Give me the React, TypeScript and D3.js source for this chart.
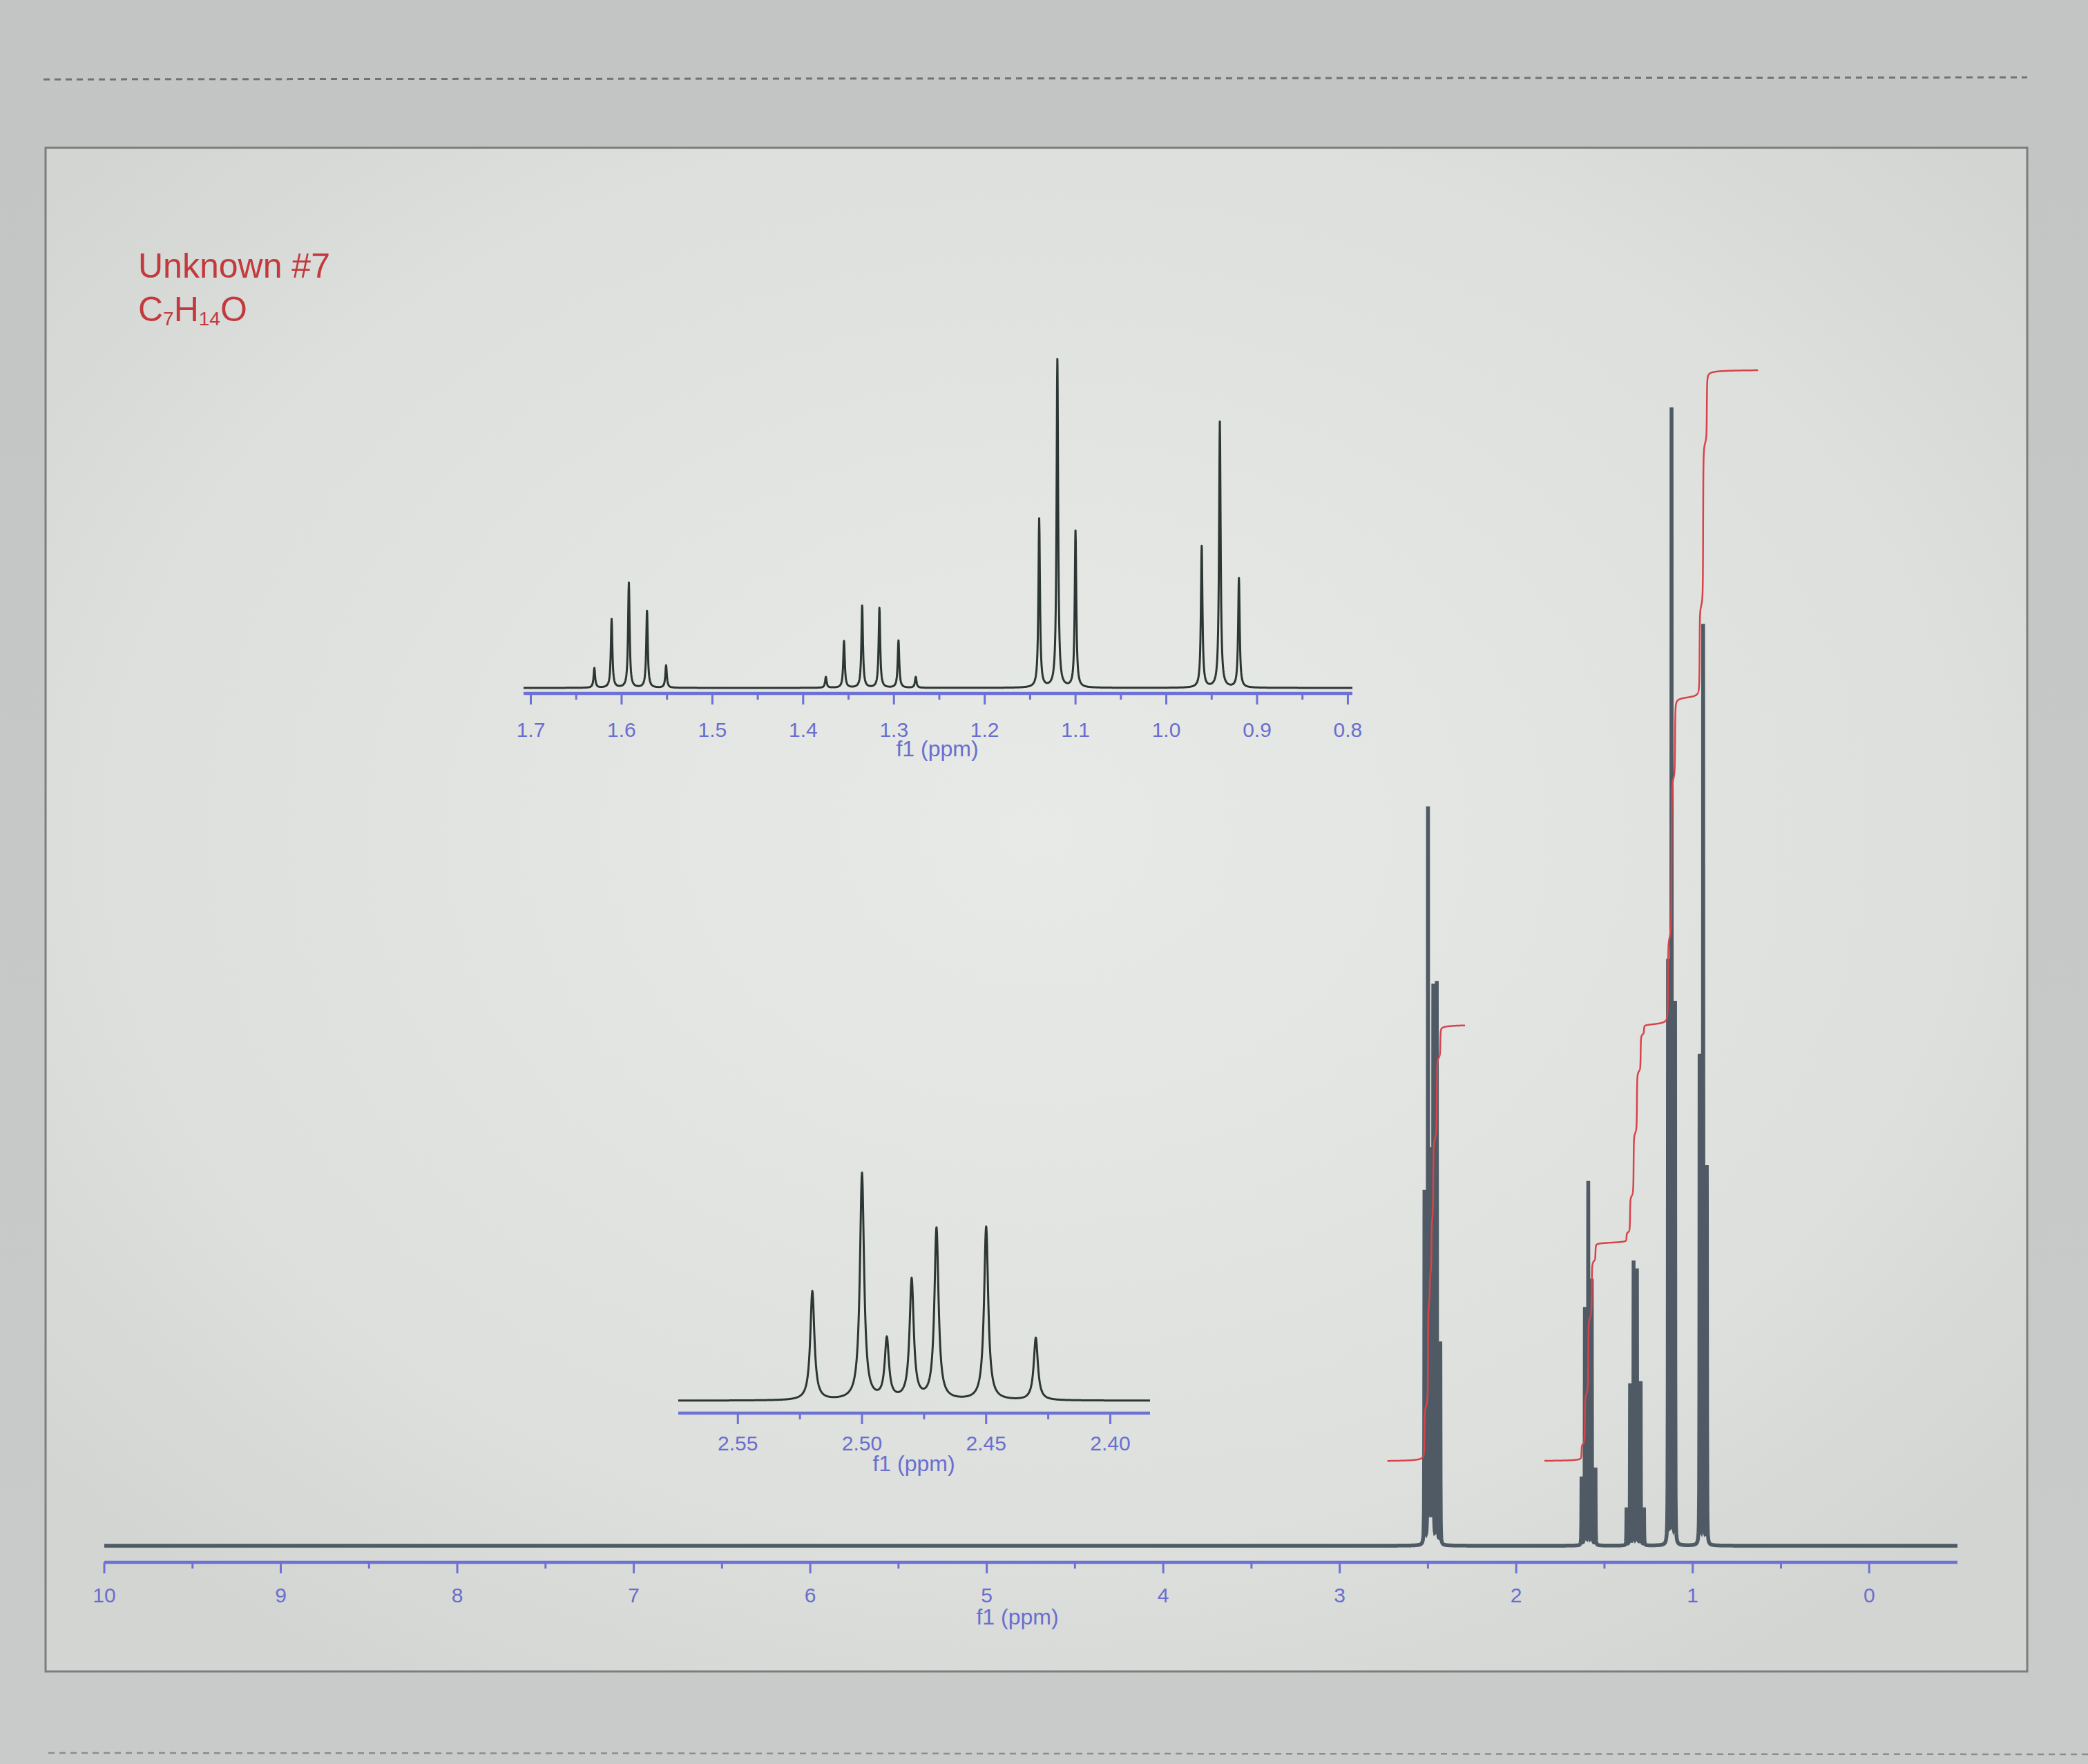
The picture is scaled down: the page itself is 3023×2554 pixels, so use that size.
import React from 'react';
import * as d3 from 'd3';

// ---------------- data ----------------
// line positions (ppm) and relative intensities of each multiplet
const m1Ppm = [2.52, 2.5, 2.49, 2.48, 2.47, 2.45, 2.43];
const m1Int = [31.1, 64.7, 17.2, 34.2, 48.9, 49.5, 17.8];
const m2Ppm = [1.63, 1.611, 1.592, 1.572, 1.551];
const m2Int = [6.0, 20.9, 32.0, 23.4, 6.8];
const m3Ppm = [1.375, 1.355, 1.335, 1.316, 1.295, 1.276];
const m3Int = [3.3, 14.2, 25.0, 24.3, 14.4, 3.3];
const m4Ppm = [1.14, 1.12, 1.1];
const m4Int = [51.4, 100, 47.7];
const m5Ppm = [0.961, 0.941, 0.92];
const m5Int = [43.1, 81.0, 33.3];
// integral values (H) of each multiplet, and integration regions (ppm)
const integralH = [4, 2, 2, 3, 3];
const integralRegions: [number, number][] = [
  [2.73, 2.29],
  [1.84, 0.63],
];

const mainTicks = [10, 9, 8, 7, 6, 5, 4, 3, 2, 1, 0];
const mainMinor = [9.5, 8.5, 7.5, 6.5, 5.5, 4.5, 3.5, 2.5, 1.5, 0.5];
const inset1Ticks = [1.7, 1.6, 1.5, 1.4, 1.3, 1.2, 1.1, 1.0, 0.9, 0.8];
const inset1Minor = [1.65, 1.55, 1.45, 1.35, 1.25, 1.15, 1.05, 0.95, 0.85];
const inset2Ticks = [2.55, 2.5, 2.45, 2.4];
const inset2Minor = [2.525, 2.475, 2.425];

const titleText = 'Unknown #7';
const axisTitle = 'f1 (ppm)';

// ---------------- model ----------------
const multiplets = [
  { ppm: m1Ppm, int: m1Int, h: integralH[0] },
  { ppm: m2Ppm, int: m2Int, h: integralH[1] },
  { ppm: m3Ppm, int: m3Int, h: integralH[2] },
  { ppm: m4Ppm, int: m4Int, h: integralH[3] },
  { ppm: m5Ppm, int: m5Int, h: integralH[4] },
];
const GAMMA = 0.001;
const allPeaks = multiplets.flatMap((m) => m.ppm);

function spectrumAt(x: number) {
  let s = 0;
  for (const m of multiplets) {
    for (let i = 0; i < m.ppm.length; i++) {
      const d = x - m.ppm[i];
      s += (m.int[i] * GAMMA * GAMMA) / (d * d + GAMMA * GAMMA);
    }
  }
  return s;
}

function cdf(m: { ppm: number[]; int: number[] }, x: number) {
  let tot = 0;
  let s = 0;
  for (let i = 0; i < m.ppm.length; i++) {
    tot += m.int[i];
    s += m.int[i] * (0.5 - Math.atan((x - m.ppm[i]) / GAMMA) / Math.PI);
  }
  return s / tot;
}

function samplePoints(scale: d3.ScaleLinear<number, number>, stepPx: number) {
  const [a, b] = scale.domain();
  const hi = Math.max(a, b);
  const lo = Math.min(a, b);
  const pxPerPpm = Math.abs(scale(hi) - scale(lo)) / (hi - lo);
  const step = stepPx / pxPerPpm;
  const pts: number[] = [];
  for (let x = hi; x >= lo; x -= step) pts.push(x);
  pts.push(lo);
  const offs = [0, 0.3, 0.7, 1.5, 3, 6, 12, 25];
  for (const p of allPeaks) {
    for (const o of offs) {
      for (const sgn of [-1, 1]) {
        const v = p + sgn * o * GAMMA;
        if (v <= hi && v >= lo) pts.push(v);
      }
    }
  }
  return pts.sort((u, v) => v - u);
}

// ---------------- scales ----------------
const mainX = d3.scaleLinear().domain([10, -0.5]).range([151, 2834]);
const mainY = d3.scaleLinear().domain([0, 100]).range([2238, 594]);
const intY = d3.scaleLinear().domain([0, 10]).range([2116, 535]);
const in1X = d3.scaleLinear().domain([1.708, 0.795]).range([758, 1958]);
const in1Y = d3.scaleLinear().domain([0, 100]).range([996, 521]);
const in2X = d3.scaleLinear().domain([2.574, 2.384]).range([982, 1665]);
const in2Y = d3.scaleLinear().domain([0, 100]).range([2028, 1521]);

const AXIS_COLOR = '#6d71d6';
const LABEL_COLOR = '#6a6ed0';
const FONT = "'Liberation Sans', Arial, Helvetica, sans-serif";

function specPath(xs: d3.ScaleLinear<number, number>, ys: d3.ScaleLinear<number, number>, stepPx: number) {
  const pts = samplePoints(xs, stepPx);
  const line = d3
    .line<number>()
    .x((d) => xs(d))
    .y((d) => ys(spectrumAt(d)));
  return line(pts) || '';
}

function integralPath(region: [number, number]) {
  const [from, to] = region;
  const ms = multiplets.filter((m) => {
    const c = d3.mean(m.ppm) as number;
    return c <= from && c >= to;
  });
  const pts: number[] = [];
  const step = 0.0004;
  for (let x = from; x >= to; x -= step) pts.push(x);
  pts.push(to);
  const line = d3
    .line<number>()
    .x((d) => mainX(d))
    .y((d) => intY(ms.reduce((s, m) => s + m.h * cdf(m, d), 0)));
  return line(pts) || '';
}

type AxisProps = {
  scale: d3.ScaleLinear<number, number>;
  y: number;
  major: number[];
  minor: number[];
  fmt: (v: number) => string;
  labelY: number;
  titleX: number;
  titleY: number;
  fontSize: number;
};

function Axis({ scale, y, major, minor, fmt, labelY, titleX, titleY, fontSize }: AxisProps) {
  const [r0, r1] = scale.range();
  return (
    <g>
      <line x1={r0} x2={r1} y1={y} y2={y} stroke={AXIS_COLOR} strokeWidth={4.5} />
      {major.map((t) => (
        <line key={'M' + t} x1={scale(t)} x2={scale(t)} y1={y} y2={y + 16} stroke={AXIS_COLOR} strokeWidth={3} />
      ))}
      {minor.map((t) => (
        <line key={'m' + t} x1={scale(t)} x2={scale(t)} y1={y} y2={y + 9} stroke={AXIS_COLOR} strokeWidth={3} />
      ))}
      {major.map((t) => (
        <text
          key={'L' + t}
          x={scale(t)}
          y={labelY}
          textAnchor="middle"
          fontFamily={FONT}
          fontSize={fontSize}
          fill={LABEL_COLOR}
        >
          {fmt(t)}
        </text>
      ))}
      <text x={titleX} y={titleY} textAnchor="middle" fontFamily={FONT} fontSize={32} fill={LABEL_COLOR}>
        {axisTitle}
      </text>
    </g>
  );
}

export default function App() {
  const W = 3023;
  const H = 2554;
  const mainPath = specPath(mainX, mainY, 0.5);
  const in1Path = specPath(in1X, in1Y, 0.5);
  const in2Path = specPath(in2X, in2Y, 0.5);
  const intPaths = integralRegions.map(integralPath);
  const fmt0 = d3.format('d');
  const fmt1 = d3.format('.1f');
  const fmt2 = d3.format('.2f');

  return (
    <svg
      width={W}
      height={H}
      viewBox={`0 0 ${W} ${H}`}
      style={{ position: 'absolute', left: 0, top: 0, display: 'block' }}
    >
      <defs>
        <radialGradient id="panelGrad" cx="50%" cy="45%" r="65%">
          <stop offset="0%" stopColor="#e7eae6" />
          <stop offset="70%" stopColor="#dde0dc" />
          <stop offset="100%" stopColor="#d2d5d2" />
        </radialGradient>
        <linearGradient id="outerGrad" x1="0" y1="0" x2="0" y2="1">
          <stop offset="0%" stopColor="#c2c5c4" />
          <stop offset="100%" stopColor="#c8cbc9" />
        </linearGradient>
      </defs>
      <rect x={0} y={0} width={W} height={H} fill="url(#outerGrad)" />
      <line x1={63} x2={2935} y1={115} y2={112} stroke="#6f7373" strokeWidth={3} strokeDasharray="9 7" />
      <line x1={70} x2={3023} y1={2538} y2={2540} stroke="#8a8d8d" strokeWidth={2.5} strokeDasharray="9 7" />
      <rect x={66} y={214} width={2869} height={2206} fill="url(#panelGrad)" stroke="#7a7e7d" strokeWidth={3} />

      {/* title */}
      <text x={200} y={402} fontFamily={FONT} fontSize={50} fill="#c23a3e">
        {titleText}
      </text>
      <text x={200} y={465} fontFamily={FONT} fontSize={50} fill="#c23a3e">
        C<tspan fontSize={28} dy={6}>7</tspan>
        <tspan dy={-6}>H</tspan>
        <tspan fontSize={28} dy={6}>14</tspan>
        <tspan dy={-6}>O</tspan>
      </text>

      {/* inset 1 */}
      <Axis
        scale={in1X}
        y={1004}
        major={inset1Ticks}
        minor={inset1Minor}
        fmt={fmt1}
        labelY={1067}
        titleX={1357}
        titleY={1095}
        fontSize={30}
      />
      <path d={in1Path} fill="none" stroke="#2c3634" strokeWidth={3} strokeLinejoin="round" />

      {/* inset 2 */}
      <Axis
        scale={in2X}
        y={2046}
        major={inset2Ticks}
        minor={inset2Minor}
        fmt={fmt2}
        labelY={2100}
        titleX={1323}
        titleY={2130}
        fontSize={30}
      />
      <path d={in2Path} fill="none" stroke="#2c3634" strokeWidth={3} strokeLinejoin="round" />

      {/* main */}
      <Axis
        scale={mainX}
        y={2262}
        major={mainTicks}
        minor={mainMinor}
        fmt={fmt0}
        labelY={2320}
        titleX={1473}
        titleY={2352}
        fontSize={30}
      />
      <path d={mainPath} fill="none" stroke="#4f5a65" strokeWidth={5.5} strokeLinejoin="miter" />
      {intPaths.map((d, i) => (
        <path key={i} d={d} fill="none" stroke="#d8434a" strokeWidth={2.5} />
      ))}
    </svg>
  );
}
